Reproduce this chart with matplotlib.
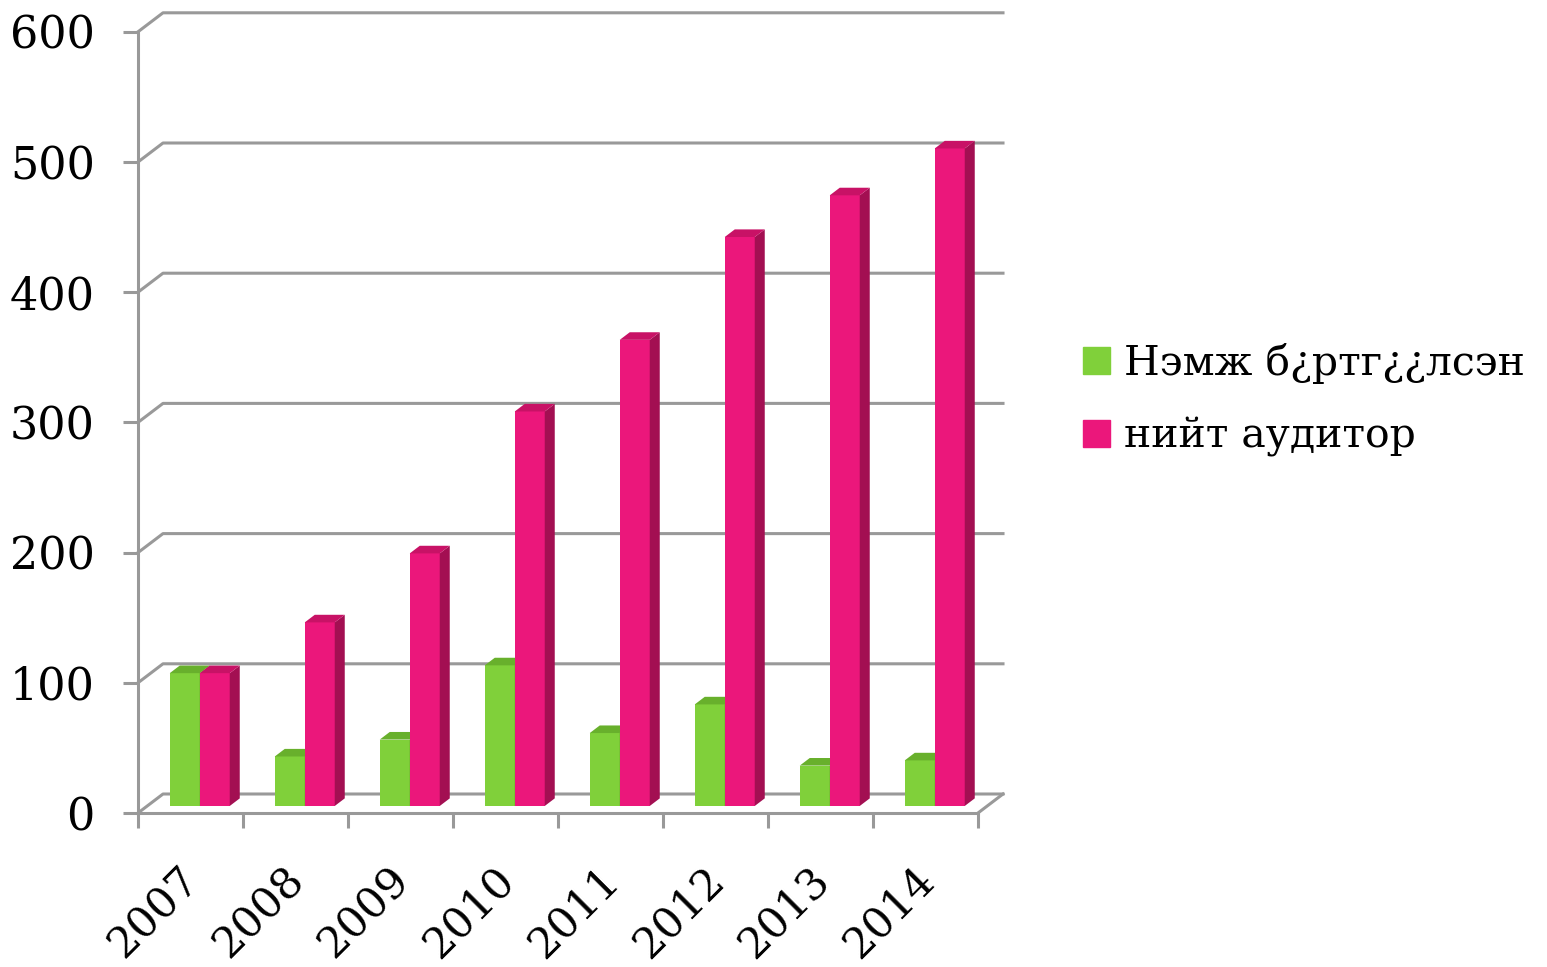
import numpy as np
import matplotlib.pyplot as plt
from matplotlib.patches import Polygon, Patch
from matplotlib.transforms import ScaledTranslation

years = ['2007', '2008', '2009', '2010', '2011', '2012', '2013', '2014']
new_registered = [102, 38, 51, 108, 56, 78, 31, 35]
total_auditors = [102, 141, 194, 303, 358, 437, 469, 505]
series_names = ['Нэмж б¿ртг¿¿лсэн', 'нийт аудитор']

front_cols = ['#80d03a', '#eb177b']
side_cols = ['#5e9e27', '#a30f52']
top_cols = ['#68b02c', '#c81266']
grid_col = '#999999'

plt.rcParams['font.family'] = ['DejaVu Serif']

fig = plt.figure(figsize=(15.47, 9.67), dpi=100)
px_x, px_y = 105.0, 1.302   # pixels per data unit
dxd, dyd = 25 / px_x, 19 / px_y  # depth offset in data units
n = len(years)
ax = fig.add_axes([138 / 1547, (967 - 813) / 967, (n + dxd) * px_x / 1547, (600 + dyd) * px_y / 967])
ax.set_xlim(0, n + dxd)
ax.set_ylim(0, 600 + dyd)

# walls and gridlines
for v in range(0, 601, 100):
    ax.plot([0, dxd, n + dxd], [v, v + dyd, v + dyd], color=grid_col, lw=2.2, zorder=1, clip_on=False)
ax.plot([n, n + dxd], [0, dyd], color=grid_col, lw=2.2, zorder=1, clip_on=False)

# 3d-ish bars
w = 1 / 3.5
f0, bd = 0.37, 0.4
for i in range(n):
    for s, vals in enumerate([new_registered, total_auditors]):
        v = vals[i]
        x0 = i + 0.75 * w + s * w + f0 * dxd
        y0 = f0 * dyd
        ax.bar(x0, v, width=w, bottom=y0, align='edge', color=front_cols[s], zorder=3 + i * 3 + s)
        side = [(x0 + w, y0), (x0 + w + bd * dxd, y0 + bd * dyd),
                (x0 + w + bd * dxd, y0 + v + bd * dyd), (x0 + w, y0 + v)]
        top = [(x0, y0 + v), (x0 + w, y0 + v),
               (x0 + w + bd * dxd, y0 + v + bd * dyd), (x0 + bd * dxd, y0 + v + bd * dyd)]
        ax.add_patch(Polygon(side, closed=True, color=side_cols[s], lw=0, zorder=3 + i * 3 + s))
        ax.add_patch(Polygon(top, closed=True, color=top_cols[s], lw=0, zorder=3 + i * 3 + s))

# axes
for sp in ['top', 'right']:
    ax.spines[sp].set_visible(False)
for sp in ['left', 'bottom']:
    ax.spines[sp].set_color(grid_col)
    ax.spines[sp].set_linewidth(2.2)
ax.spines['left'].set_bounds(0, 600)
ax.spines['bottom'].set_bounds(0, n)
ax.set_yticks(range(0, 601, 100))
ax.tick_params(axis='y', length=11, width=2.2, color=grid_col, labelsize=32, pad=20)
ax.set_xticks(range(0, n + 1))
ax.set_xticklabels([])
ax.set_xticks(np.arange(n) + 0.5, minor=True)
ax.set_xticklabels(years, minor=True, rotation=45, ha='right', va='top', rotation_mode='anchor')
ax.tick_params(axis='x', which='major', length=11, width=2.2, color=grid_col)
ax.tick_params(axis='x', which='minor', length=0, labelsize=31, pad=33)
shift = ScaledTranslation(-0.13, 0, fig.dpi_scale_trans)
for lbl in ax.get_xticklabels(minor=True):
    lbl.set_transform(lbl.get_transform() + shift)
ax.patch.set_alpha(0)

handles = [Patch(color=front_cols[0]), Patch(color=front_cols[1])]
fig.legend(handles, series_names, loc='center left', bbox_to_anchor=(1046 / 1547, 1 - 400 / 967),
           frameon=False, fontsize=29.5, handlelength=0.65, handleheight=0.65, handletextpad=0.35,
           labelspacing=0.8)

fig.savefig('out.png', dpi=100)
